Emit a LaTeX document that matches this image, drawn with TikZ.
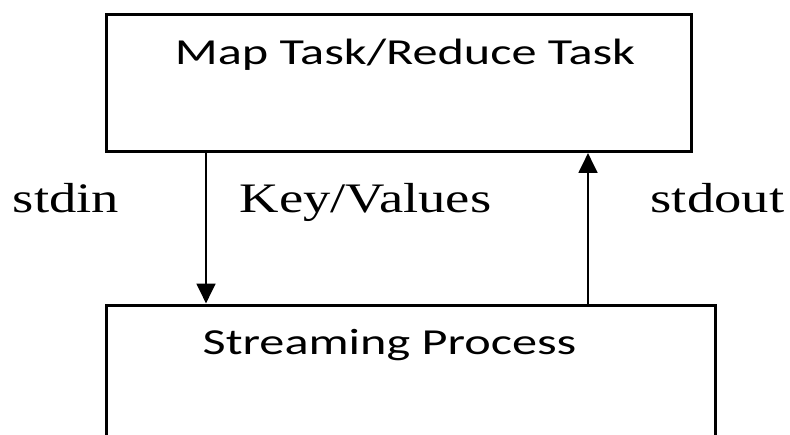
\documentclass[tikz,border=0pt]{standalone}
\usepackage{fontspec}
\setmainfont{Liberation Serif}[FakeStretch=1.3]
\newfontfamily\boxfont{Carlito}[FakeStretch=1.37]
\usetikzlibrary{arrows.meta}

\begin{document}
\begin{tikzpicture}[x=0.75pt,y=-0.75pt,
  box/.style={draw,line width=2.6pt,inner sep=0pt,anchor=north west},
  flow/.style={line width=2.2pt,-{Triangle[length=15pt,width=14pt]}},
  boxtext/.style={font=\boxfont\fontsize{27.5}{30}\selectfont,anchor=base},
  tag/.style={font=\fontsize{31.5}{34}\selectfont,anchor=base}]
  \clip (0,0) rectangle (790,435);
  % The two boxes; the lower one runs past the bottom edge.
  \node[box,minimum width=438.75pt,minimum height=102.4pt] (task) at (105,13) {};
  \node[box,minimum width=456.75pt,minimum height=120pt] (stream) at (105,303.5) {};
  \node[boxtext] (tasklabel) at (405,65) {Map Task/Reduce Task};
  \node[boxtext] (streamlabel) at (389.5,354) {Streaming Process};
  % stdin goes down, stdout comes back up.
  \draw[flow] ([xshift=75.75pt]task.south west) -- ([xshift=75.75pt]stream.north west);
  \draw[flow] ([xshift=362.25pt]stream.north west) -- ([xshift=362.25pt]task.south west);
  \node[tag] (stdin) at (66,213) {stdin};
  \node[tag] (keyvals) at (365.5,213) {Key/Values};
  \node[tag] (stdout) at (717.5,213) {stdout};
\end{tikzpicture}
\end{document}
